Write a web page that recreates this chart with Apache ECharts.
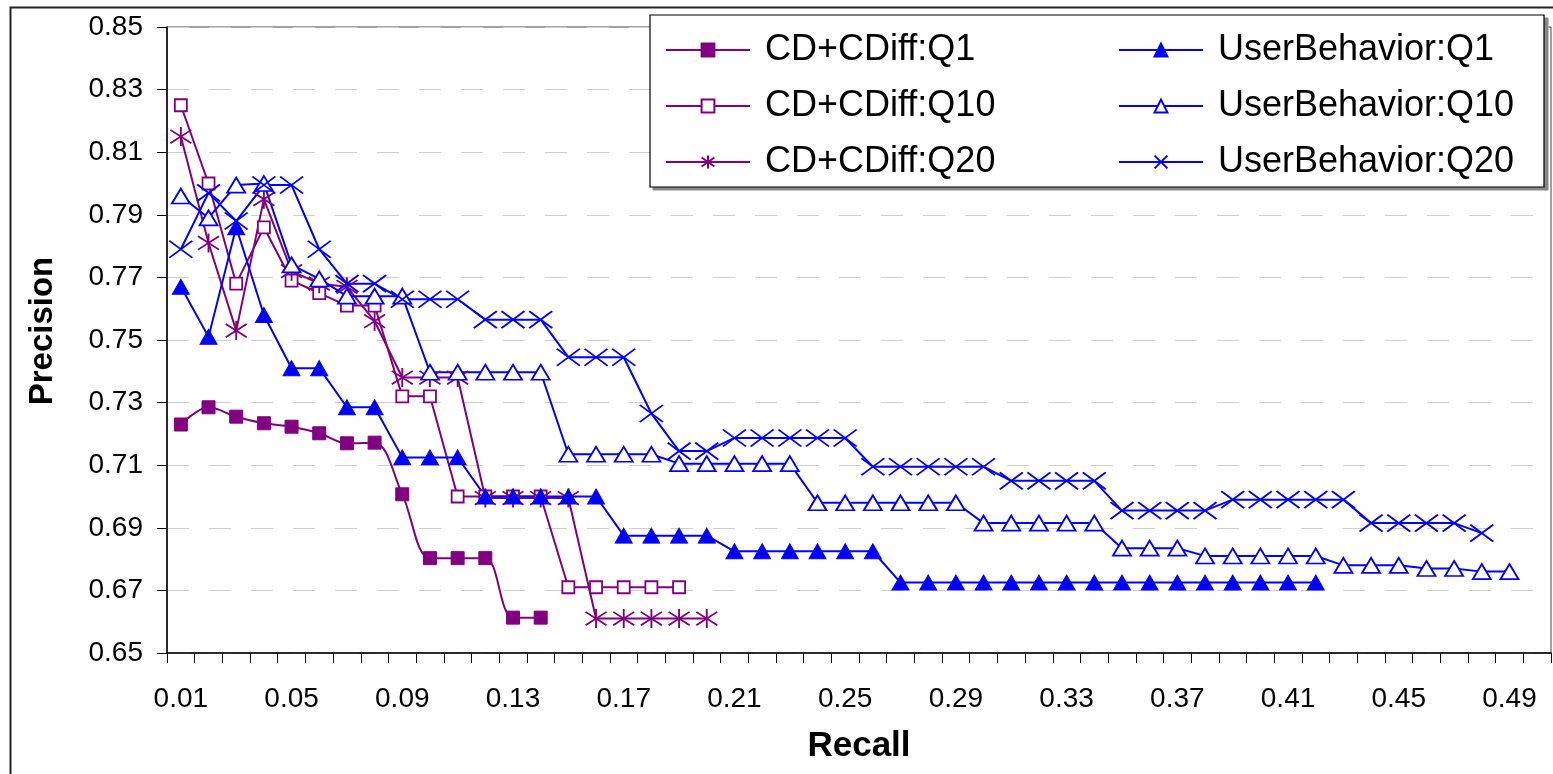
<!DOCTYPE html>
<html><head><meta charset="utf-8">
<script src="https://cdn.jsdelivr.net/npm/echarts@6/dist/echarts.min.js"></script>
<style>html,body{margin:0;padding:0;background:#fff}#c{width:1553px;height:774px}</style>
</head><body><div id="c"></div>
<script>
// Recall categories (x axis)
const recallLabels = ['0.01','0.02','0.03','0.04','0.05','0.06','0.07','0.08','0.09','0.10',
  '0.11','0.12','0.13','0.14','0.15','0.16','0.17','0.18','0.19','0.20',
  '0.21','0.22','0.23','0.24','0.25','0.26','0.27','0.28','0.29','0.30',
  '0.31','0.32','0.33','0.34','0.35','0.36','0.37','0.38','0.39','0.40',
  '0.41','0.42','0.43','0.44','0.45','0.46','0.47','0.48','0.49','0.50'];

// Precision axis range
const yMin = 0.65, yMax = 0.85, yStep = 0.02;

// Series values (precision)
const cdQ1 = [0.723,0.7285,0.7255,0.7234,0.7223,0.7202,0.717,0.7172,0.7007,0.6803,0.6803,0.6803,0.6613,0.6613];
const cdQ10 = [0.825,0.800,0.768,0.786,0.769,0.765,0.761,0.761,0.732,0.732,0.700,0.700,0.700,0.700,0.671,0.671,0.671,0.671,0.671];
const cdQ20 = [0.815,0.781,0.753,0.795,0.772,0.768,0.767,0.756,0.738,0.738,0.738,0.6995,0.6995,0.6995,0.6995,0.661,0.661,0.661,0.661,0.661];
const ubQ1 = [0.767,0.751,0.786,0.758,0.741,0.741,0.7285,0.7285,0.7125,0.7125,0.7125,0.700,0.700,0.700,0.700,0.700,0.6875,0.6875,0.6875,0.6875,
  0.6825,0.6825,0.6825,0.6825,0.6825,0.6825,
  0.6725,0.6725,0.6725,0.6725,0.6725,0.6725,0.6725,0.6725,0.6725,0.6725,0.6725,0.6725,0.6725,0.6725,0.6725,0.6725];
const ubQ10 = [0.796,0.789,0.7995,0.800,0.774,0.7695,0.764,0.764,0.764,0.7397,0.7397,0.7397,0.7397,0.7397,0.7135,0.7135,0.7135,0.7135,
  0.7105,0.7105,0.7105,0.7105,0.7105,
  0.698,0.698,0.698,0.698,0.698,0.698,
  0.6915,0.6915,0.6915,0.6915,0.6915,
  0.6835,0.6835,0.6835,
  0.681,0.681,0.681,0.681,0.681,
  0.678,0.678,0.678,
  0.677,0.677,
  0.676,0.676];
const ubQ20 = [0.779,0.797,0.788,0.7995,0.7995,0.779,0.768,0.768,0.763,0.763,0.763,0.7565,0.7565,0.7565,0.7445,0.7445,0.7445,0.7265,0.7145,0.7145,
  0.7187,0.7187,0.7187,0.7187,0.7187,
  0.7095,0.7095,0.7095,0.7095,0.7095,
  0.705,0.705,0.705,0.705,
  0.6955,0.6955,0.6955,0.6955,
  0.699,0.699,0.699,0.699,0.699,
  0.6915,0.6915,0.6915,0.6915,
  0.6883];

const seriesNames = ['CD+CDiff:Q1','CD+CDiff:Q10','CD+CDiff:Q20','UserBehavior:Q1','UserBehavior:Q10','UserBehavior:Q20'];

const PURPLE = '#800080', BLUE = '#0000ff';
const FONT = '"Liberation Sans", Arial, Helvetica, sans-serif';
const ASTERISK = 'path://M10 0 L10 20 M1 3 L19 17 M1 17 L19 3';
const CROSS = 'path://M0 0 L20 16 M0 16 L20 0';

// offset so that axis ticks start at yMin exactly
const off = arr => arr.map(v => +(v - yMin).toFixed(4));

function mk(name, data, color, symbol, size, filled, smooth) {
  return {
    name, type: 'line', data: off(data), smooth: smooth || false,
    symbol, symbolSize: size, showSymbol: true, showAllSymbol: true,
    lineStyle: { color, width: 2 },
    itemStyle: filled ? { color, borderColor: color, borderWidth: 1 } : { color: '#fff', borderColor: color, borderWidth: 1.8 },
    emphasis: { disabled: true },
    z: 3
  };
}

const chart = echarts.init(document.getElementById('c'), null, { renderer: 'canvas' });
const legendCommon = {
  orient: 'vertical', top: 27, itemWidth: 84, itemHeight: 16, itemGap: 20,
  selectedMode: false, z: 20,
  textStyle: { fontSize: 36, fontFamily: FONT, color: '#000', padding: [0, 0, 0, 10] }
};
chart.setOption({
  animation: false,
  backgroundColor: '#fff',
  grid: { left: 167, right: 2, top: 27, bottom: 121, containLabel: false, outerBoundsMode: 'none',
    show: true, borderColor: '#444', borderWidth: 1, backgroundColor: 'transparent' },
  legend: [
    Object.assign({}, legendCommon, { left: 660, data: seriesNames.slice(0, 3) }),
    Object.assign({}, legendCommon, { left: 1113, data: seriesNames.slice(3) })
  ],
  graphic: [
    { type: 'rect', left: 8, top: 5, shape: { width: 1600, height: 820 }, style: { fill: 'none', stroke: '#222', lineWidth: 2 }, z: 100, silent: true },
    { type: 'rect', x: 653, y: 18, shape: { width: 895, height: 172 }, style: { fill: '#888', stroke: '#888', lineWidth: 1 }, z: 4, silent: true },
    { type: 'rect', x: 650, y: 15, shape: { width: 894, height: 172 }, style: { fill: '#fff', stroke: '#000', lineWidth: 1.2 }, z: 5, silent: true }
  ],
  xAxis: {
    type: 'category', data: recallLabels, boundaryGap: true,
    name: 'Recall', nameLocation: 'middle', nameGap: 76,
    nameTextStyle: { fontSize: 35, fontWeight: 'bold', fontFamily: FONT, color: '#000' },
    axisLine: { lineStyle: { color: '#000', width: 1.5 } },
    axisTick: { show: true, interval: 0, alignWithLabel: false, length: 10, lineStyle: { color: '#000', width: 1 } },
    axisLabel: { interval: 3, fontSize: 28, fontFamily: FONT, color: '#000', margin: 32 },
    splitLine: { show: false }
  },
  yAxis: {
    type: 'value', min: 0, max: +(yMax - yMin).toFixed(2), interval: yStep,
    name: 'Precision', nameLocation: 'middle', nameGap: 108, nameRotate: 90,
    nameTextStyle: { fontSize: 33, fontWeight: 'bold', fontFamily: FONT, color: '#000', padding: [0, 0, 0, 18] },
    axisLine: { show: true, lineStyle: { color: '#000', width: 1.5 } },
    axisTick: { show: true, length: 10, lineStyle: { color: '#000', width: 1 } },
    axisLabel: { fontSize: 28, fontFamily: FONT, color: '#000', margin: 24,
      formatter: v => (v + yMin).toFixed(2) },
    splitLine: { show: true, lineStyle: { color: '#cfcfcf', width: 1.2, type: [22, 20] } }
  },
  series: [
    mk(seriesNames[0], cdQ1, PURPLE, 'rect', 13, true, 0.35),
    mk(seriesNames[1], cdQ10, PURPLE, 'rect', 12, false),
    mk(seriesNames[2], cdQ20, PURPLE, ASTERISK, [21, 19], false),
    mk(seriesNames[3], ubQ1, BLUE, 'triangle', [17, 15], true),
    mk(seriesNames[4], ubQ10, BLUE, 'triangle', [18, 15], false),
    mk(seriesNames[5], ubQ20, BLUE, CROSS, [23, 17], false)
  ]
});
</script>
</body></html>
